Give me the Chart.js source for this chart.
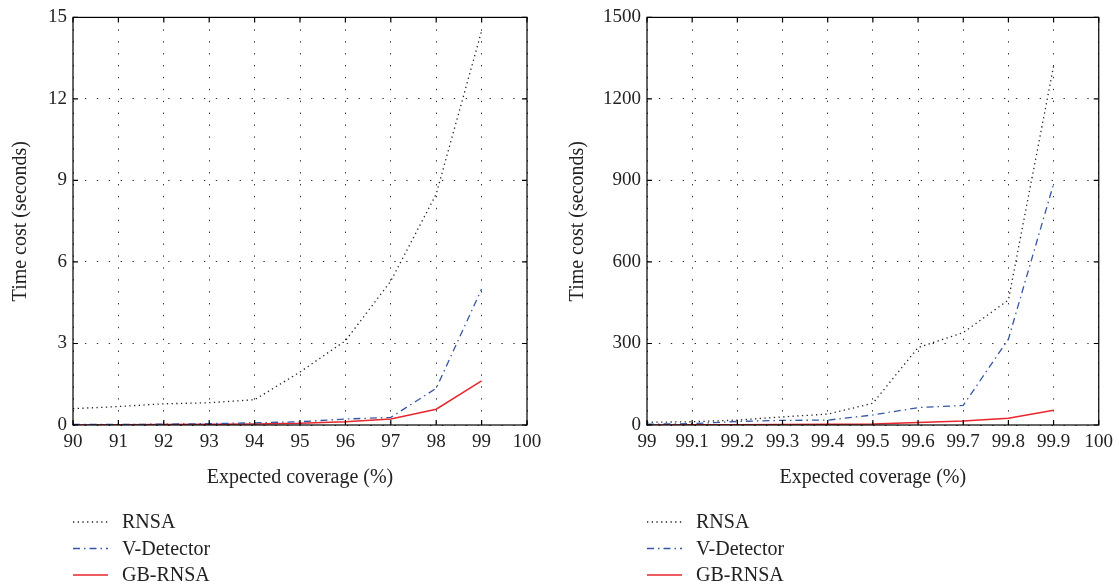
<!DOCTYPE html>
<html>
<head>
<meta charset="utf-8">
<script src="https://cdn.jsdelivr.net/npm/chart.js@4/dist/chart.umd.min.js"></script>
<style>
  html, body { margin: 0; padding: 0; background: #fff; }
  #wrap { position: relative; width: 1119px; height: 585px; }
  .box { position: absolute; top: 0; height: 585px; }
  #b1 { left: 0; width: 560px; }
  #b2 { left: 560px; width: 559px; }
</style>
</head>
<body>
<div id="wrap">
  <div class="box" id="b1"><canvas id="c1"></canvas></div>
  <div class="box" id="b2"><canvas id="c2"></canvas></div>
</div>
<script>
// ---- data ----
const seriesNames = ['RNSA', 'V-Detector', 'GB-RNSA'];

const xLeft = [90, 91, 92, 93, 94, 95, 96, 97, 98, 99];
const rnsaLeft = [0.6, 0.68, 0.78, 0.82, 0.93, 1.95, 3.1, 5.3, 8.5, 14.5];
const vdLeft = [0.02, 0.02, 0.03, 0.05, 0.08, 0.12, 0.22, 0.28, 1.35, 5.0];
const gbLeft = [0.0, 0.01, 0.02, 0.03, 0.04, 0.06, 0.12, 0.22, 0.58, 1.62];
const xTicksLeft = [90, 91, 92, 93, 94, 95, 96, 97, 98, 99, 100];
const yTicksLeft = [0, 3, 6, 9, 12, 15];

const xRight = [99, 99.1, 99.2, 99.3, 99.4, 99.5, 99.6, 99.7, 99.8, 99.9];
const rnsaRight = [10, 12, 18, 30, 40, 80, 285, 340, 460, 1320];
const vdRight = [3, 5, 13, 17, 18, 37, 64, 72, 316, 887];
const gbRight = [0, 1, 1, 2, 3, 4, 9, 15, 25, 54];
const xTicksRight = [99, 99.1, 99.2, 99.3, 99.4, 99.5, 99.6, 99.7, 99.8, 99.9, 100];
const yTicksRight = [0, 300, 600, 900, 1200, 1500];

const xTitle = 'Expected coverage (%)';
const yTitle = 'Time cost (seconds)';

// ---- styles ----
const FONT = "'Liberation Serif', 'DejaVu Serif', serif";
const styles = [
  { borderColor: '#222222', borderWidth: 1.3, borderDash: [1.3, 3.4] },
  { borderColor: '#3656a6', borderWidth: 1.3, borderDash: [7, 4, 1.5, 4] },
  { borderColor: '#e8262e', borderWidth: 1.5, borderDash: [] }
];

function pts(xs, ys) { return xs.map((x, i) => ({ x: x, y: ys[i] })); }

// frame + inward ticks + legend drawn below the axes
const framePlugin = {
  id: 'frame',
  afterDraw(chart) {
    const { ctx, chartArea: a, scales } = chart;
    ctx.save();
    ctx.strokeStyle = '#000';
    ctx.lineWidth = 1.2;
    ctx.setLineDash([]);
    ctx.strokeRect(a.left, a.top, a.right - a.left, a.bottom - a.top);
    const tl = 5;
    ctx.beginPath();
    scales.x.ticks.forEach(t => {
      const px = scales.x.getPixelForValue(t.value);
      ctx.moveTo(px, a.bottom); ctx.lineTo(px, a.bottom - tl);
      ctx.moveTo(px, a.top); ctx.lineTo(px, a.top + tl);
    });
    scales.y.ticks.forEach(t => {
      const py = scales.y.getPixelForValue(t.value);
      ctx.moveTo(a.left, py); ctx.lineTo(a.left + tl, py);
      ctx.moveTo(a.right, py); ctx.lineTo(a.right - tl, py);
    });
    ctx.stroke();

    // legend
    const rows = [522, 548.5, 575];
    ctx.font = '20px ' + FONT;
    ctx.textBaseline = 'middle';
    ctx.textAlign = 'left';
    chart.data.datasets.forEach((ds, i) => {
      const y = rows[i];
      ctx.beginPath();
      ctx.strokeStyle = ds.borderColor;
      ctx.lineWidth = ds.borderWidth;
      ctx.setLineDash(ds.borderDash || []);
      ctx.moveTo(a.left, y); ctx.lineTo(a.left + 35, y);
      ctx.stroke();
      ctx.setLineDash([]);
      ctx.fillStyle = '#222';
      ctx.fillText(ds.label, a.left + 49, y + 1);
    });
    ctx.restore();
  }
};

function makeChart(id, xs, ys3, xTicks, yTicks, yMax, yWidth, yTitlePad, fmt) {
  const datasets = ys3.map((ys, i) => Object.assign({
    label: seriesNames[i],
    data: pts(xs, ys),
    pointRadius: 0,
    fill: false,
    tension: 0,
    borderCapStyle: 'butt'
  }, styles[i]));
  return new Chart(document.getElementById(id), {
    type: 'line',
    data: { datasets: datasets },
    options: {
      responsive: true,
      maintainAspectRatio: false,
      animation: false,
      layout: { padding: { left: 0, top: 16, right: id === 'c1' ? 33 : 19, bottom: 0 } },
      plugins: { legend: { display: false }, tooltip: { enabled: false } },
      scales: {
        x: {
          type: 'linear',
          min: xTicks[0], max: xTicks[xTicks.length - 1],
          afterBuildTicks: s => { s.ticks = xTicks.map(v => ({ value: v })); },
          afterFit: s => { s.height = 160; },
          ticks: {
            color: '#222', padding: 6, maxRotation: 0, autoSkip: false,
            font: { family: FONT, size: 19 },
            callback: v => fmt(v)
          },
          grid: { color: '#333', lineWidth: 1, drawTicks: false },
          border: { display: false, dash: [1.4, 10.5] },
          title: {
            display: true, text: xTitle, color: '#222',
            font: { family: FONT, size: 20 },
            padding: { top: 0, bottom: 95 }
          }
        },
        y: {
          type: 'linear',
          min: 0, max: yMax,
          afterBuildTicks: s => { s.ticks = yTicks.map(v => ({ value: v })); },
          afterFit: s => { s.width = yWidth; },
          ticks: {
            color: '#222', padding: 6,
            font: { family: FONT, size: 19 },
            callback: v => String(v)
          },
          grid: { color: '#333', lineWidth: 1, drawTicks: false },
          border: { display: false, dash: [1.4, 10.5] },
          title: {
            display: true, text: yTitle, color: '#222',
            font: { family: FONT, size: 20 },
            padding: { top: yTitlePad, bottom: 0 }
          }
        }
      }
    },
    plugins: [framePlugin]
  });
}

makeChart('c1', xLeft, [rnsaLeft, vdLeft, gbLeft], xTicksLeft, yTicksLeft, 15, 73, 9,
  v => String(v));
makeChart('c2', xRight, [rnsaRight, vdRight, gbRight], xTicksRight, yTicksRight, 1500, 87, 6,
  v => String(Math.round(v * 10) / 10));
</script>
</body>
</html>
